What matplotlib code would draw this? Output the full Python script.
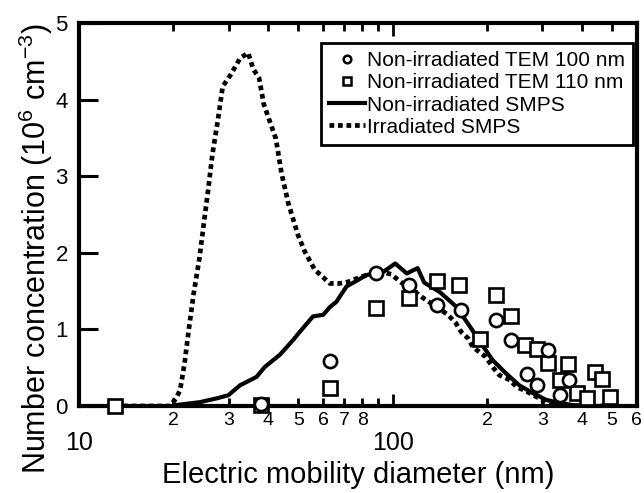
import matplotlib
matplotlib.use('Agg')
from matplotlib import pyplot as plt
from matplotlib.lines import Line2D

plt.rcParams['font.family'] = ['Liberation Sans', 'DejaVu Sans']
plt.rcParams['mathtext.fontset'] = 'custom'
plt.rcParams['mathtext.rm'] = 'Liberation Sans'
plt.rcParams['mathtext.default'] = 'regular'

# irradiated SMPS (dotted)
d_irr = [13, 16, 19.5, 20.4, 21.0, 21.7, 22.4, 23.2, 24.2, 25.0, 25.8, 26.6, 27.7, 28.7,
         30.6, 32.6, 34.6, 35.9, 37.5, 38.8, 40.6, 42.4, 44.2, 46.5, 49.9, 52.5, 56.4,
         60, 63, 67.6, 72, 77.4, 84, 92, 99, 105.7, 116, 125, 137, 150, 159, 165, 174,
         180, 198, 208, 219, 236, 248, 267, 287, 308, 330, 380, 440, 500]
c_irr = [0, 0, 0, 0.10, 0.21, 0.56, 1.01, 1.47, 1.93, 2.39, 2.82, 3.28, 3.73, 4.17,
         4.34, 4.54, 4.61, 4.40, 4.28, 3.94, 3.71, 3.49, 3.04, 2.64, 2.23, 2.01, 1.78,
         1.68, 1.60, 1.60, 1.62, 1.67, 1.72, 1.75, 1.72, 1.62, 1.51, 1.41, 1.30, 1.19,
         1.08, 0.97, 0.88, 0.77, 0.64, 0.51, 0.40, 0.34, 0.25, 0.19, 0.12, 0.05, 0.01,
         0, 0, 0]

# non-irradiated SMPS (solid)
d_non = [20.2, 24.3, 27.5, 29.9, 32.6, 36.8, 39.1, 43.7, 48.1, 50.6, 55.7, 60, 63, 66.1,
         71.2, 75.6, 82.5, 93.2, 101.8, 110.9, 120, 126, 141, 159, 176, 191, 208, 229,
         253, 279, 308, 341, 376, 450]
c_non = [0.01, 0.05, 0.10, 0.14, 0.27, 0.38, 0.51, 0.67, 0.86, 0.97, 1.17, 1.19, 1.29,
         1.36, 1.56, 1.62, 1.71, 1.75, 1.86, 1.73, 1.80, 1.61, 1.49, 1.30, 1.04, 0.82,
         0.60, 0.43, 0.27, 0.17, 0.08, 0.04, 0.01, 0]

# TEM 100 nm (circles)
d_circ = [38, 63, 88.3, 113, 138, 165, 213, 238, 267, 288, 312, 341, 364]
c_circ = [0.02, 0.59, 1.73, 1.58, 1.32, 1.25, 1.12, 0.86, 0.42, 0.27, 0.73, 0.14, 0.34]

# TEM 110 nm (squares)
d_sq = [13, 38, 63, 88.3, 113, 138, 163, 189, 213, 239, 264, 289, 312, 341, 362, 386,
        416, 440, 465, 491]
c_sq = [0, 0.01, 0.23, 1.28, 1.41, 1.63, 1.58, 0.88, 1.45, 1.17, 0.80, 0.74, 0.56, 0.34,
        0.55, 0.17, 0.10, 0.45, 0.35, 0.12]

major_ticks = [10, 100]
major_labels = ['10', '100']
minor_ticks = [20, 30, 40, 50, 60, 70, 80, 90, 200, 300, 400, 500, 600]
minor_labels = ['2', '3', '4', '5', '6', '7', '8', '', '2', '3', '4', '5', '6']

fig = plt.figure(figsize=(6.44, 4.93), dpi=100)
ax = fig.add_axes([0.1227, 0.1765, 0.8663, 0.7768])

ax.plot(d_irr, c_irr, color='black', lw=3.4, linestyle=(0, (1, 0.8)),
        dash_capstyle='butt', zorder=2)
ax.plot(d_non, c_non, color='black', lw=3.0, zorder=3)
ax.plot(d_sq, c_sq, linestyle='none', marker='s', ms=9.5, mew=1.9, mec='black',
        mfc='white', zorder=4, clip_on=False)
ax.plot(d_circ, c_circ, linestyle='none', marker='o', ms=9.5, mew=1.9, mec='black',
        mfc='white', zorder=5, clip_on=False)

ax.set_xscale('log')
ax.set_xlim(10, 600)
ax.set_ylim(0, 5)
ax.set_yticks([0, 1, 2, 3, 4, 5])
ax.set_xticks(major_ticks, major_labels)
ax.set_xticks(minor_ticks, minor_labels, minor=True)

for s in ax.spines.values():
    s.set_linewidth(3)

ax.tick_params(which='both', direction='in', top=True, right=False)
ax.tick_params(axis='x', which='major', length=9, width=2, labelsize=18, pad=18)
ax.tick_params(axis='x', which='minor', length=6, width=2, labelsize=14, pad=4)
ax.tick_params(axis='y', which='major', length=14, width=2.2, labelsize=16, pad=8)

handles = [
    Line2D([], [], linestyle='none', marker='o', ms=5.5, mew=1.8, mec='black', mfc='white'),
    Line2D([], [], linestyle='none', marker='s', ms=5.5, mew=1.8, mec='black', mfc='white'),
    Line2D([], [], color='black', lw=3.0),
    Line2D([], [], color='black', lw=3.4, linestyle=(0, (1, 0.8)), dash_capstyle='butt'),
]
labels = ['Non-irradiated TEM 100 nm', 'Non-irradiated TEM 110 nm',
          'Non-irradiated SMPS', 'Irradiated SMPS']
leg = ax.legend(handles, labels, loc='upper right', bbox_to_anchor=(0.993, 0.948),
                borderaxespad=0, fontsize=15, handlelength=1.7, handletextpad=0.1,
                labelspacing=0.15, borderpad=0.4, fancybox=False, framealpha=1,
                edgecolor='black')
leg.get_frame().set_linewidth(2)

fig.text(0.556, 0.036, 'Electric mobility diameter (nm)', fontsize=21,
         ha='center', va='center')
fig.text(0.056, 0.495, r'Number concentration (10$^{6}$ cm$^{-3}$)', fontsize=22,
         rotation=90, ha='center', va='center')

fig.savefig('out.png', dpi=100)
